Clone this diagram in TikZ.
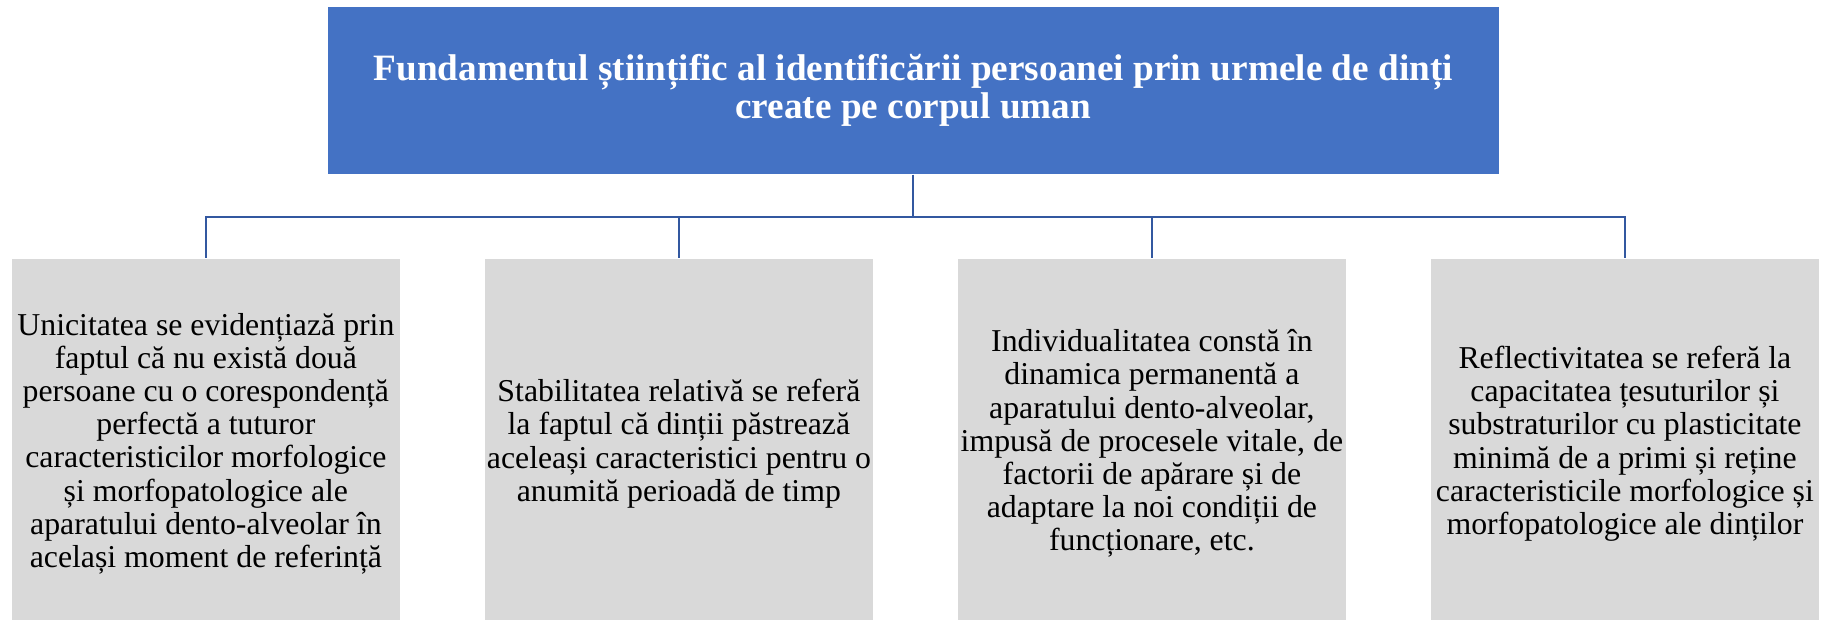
\documentclass[tikz,border=0pt]{standalone}
\usepackage{fontspec}
\setmainfont{Liberation Serif}
\usepackage{xcolor}
\usepackage{tikz}
\usetikzlibrary{positioning}
\definecolor{rootfill}{HTML}{4472C4}
\definecolor{leaffill}{HTML}{D9D9D9}
\definecolor{linkcol}{HTML}{3358A0}
\tikzset{
    rootbox/.style={rectangle, fill=rootfill, draw=none, minimum width=585.6pt,
                    minimum height=83.9pt, align=center, text=white, inner sep=0pt,
                    font=\fontsize{18.6}{19.2}\selectfont\bfseries},
    leafbox/.style={rectangle, fill=leaffill, draw=none, minimum width=193.8pt,
                    minimum height=184.8pt, align=center, text=black, inner sep=0pt,
                    font=\fontsize{15.9}{16.6}\selectfont},
    link/.style={line width=1pt, color=linkcol},
}
\begin{document}
\begin{tikzpicture}[x=0.5pt, y=-0.5pt, node distance=42.3pt]
  \useasboundingbox (0,0) rectangle (1821,620);

  \node[rootbox] (root) at (913.3,90.6)
       {Fundamentul științific al identificării persoanei prin urmele de dinți\\create pe corpul uman};

  \node[leafbox, anchor=north west] (uniq) at (11.7,258.5)
       {Unicitatea se evidențiază prin\\faptul că nu există două\\persoane cu o corespondență\\perfectă a tuturor\\caracteristicilor morfologice\\și morfopatologice ale\\aparatului dento-alveolar în\\același moment de referință};
  \node[leafbox, right=of uniq] (stab)
       {Stabilitatea relativă se referă\\la faptul că dinții păstrează\\aceleași caracteristici pentru o\\anumită perioadă de timp};
  \node[leafbox, right=of stab] (indiv)
       {Individualitatea constă în\\dinamica permanentă a\\aparatului dento-alveolar,\\impusă de procesele vitale, de\\factorii de apărare și de\\adaptare la noi condiții de\\funcționare, etc.};
  \node[leafbox, right=of indiv] (refl)
       {Reflectivitatea se referă la\\capacitatea țesuturilor și\\substraturilor cu plasticitate\\minimă de a primi și reține\\caracteristicile morfologice și\\morfopatologice ale dinților};

  \draw[link] (root.south) -- ++(0,42.2) -| (uniq.north);
  \draw[link] (root.south) -- ++(0,42.2) -| (stab.north);
  \draw[link] (root.south) -- ++(0,42.2) -| (indiv.north);
  \draw[link] (root.south) -- ++(0,42.2) -| (refl.north);

\end{tikzpicture}
\end{document}
